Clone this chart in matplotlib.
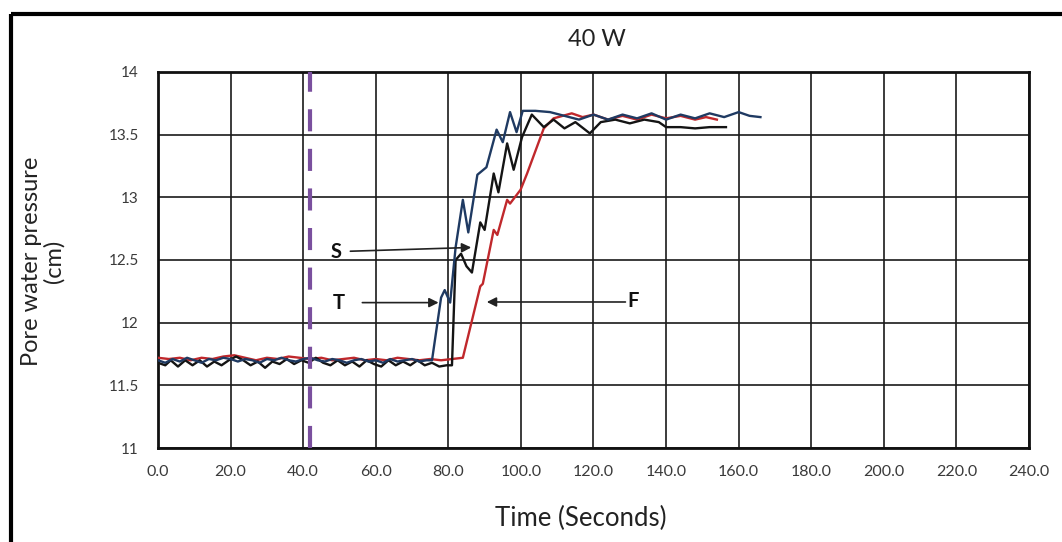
import matplotlib
matplotlib.use("Agg")
import matplotlib.pyplot as plt
from matplotlib.lines import Line2D

plt.rcParams['font.family'] = ['Lato', 'DejaVu Sans']

# ---- data ----
t_T = [0, 2, 4, 6, 8, 10, 12, 14, 16, 18, 20, 22, 24, 26, 28, 30, 32, 34, 36, 38,
       40, 42, 44, 46, 48, 50, 52, 54, 56, 58, 60, 62, 64, 66, 68, 70, 72, 74, 75.5,
       78, 79, 80.5, 82, 84, 85.5, 88, 90.5, 93.3, 95, 97, 98.8, 100.5, 104, 108,
       112, 116, 120, 124, 128, 132, 136, 140, 144, 148, 152, 156, 160, 163, 166]
p_T = [11.70, 11.68, 11.71, 11.69, 11.72, 11.70, 11.68, 11.71, 11.70, 11.72, 11.71,
       11.69, 11.71, 11.70, 11.68, 11.71, 11.70, 11.72, 11.70, 11.69, 11.71, 11.72,
       11.70, 11.69, 11.71, 11.70, 11.68, 11.70, 11.71, 11.69, 11.70, 11.68, 11.71,
       11.69, 11.70, 11.71, 11.69, 11.70, 11.70,
       12.20, 12.26, 12.16, 12.60, 12.98, 12.72, 13.18, 13.24, 13.54, 13.44, 13.68,
       13.52, 13.69, 13.69, 13.68, 13.65, 13.62, 13.66, 13.62, 13.66, 13.63, 13.67,
       13.62, 13.66, 13.63, 13.67, 13.64, 13.68, 13.65, 13.64]

t_S = [0, 2, 3.5, 5.5, 7.5, 9.5, 11.5, 13.5, 15.5, 17.5, 19.5, 21.5, 23.5, 25.5,
       27.5, 29.5, 31.5, 33.5, 35.5, 37.5, 39.5, 41.5, 43.5, 45.5, 47.5, 49.5, 51.5,
       53.5, 55.5, 57.5, 59.5, 61.5, 63.5, 65.5, 67.5, 69.5, 71.5, 73.5, 75.5, 77.5,
       79.5, 81, 82, 83.5, 85, 86.5, 88.8, 90, 92.5, 93.8, 96.2, 98, 100.3, 103,
       106.3, 109, 112, 115, 119, 122, 126, 130, 134, 138, 140, 144, 148, 152, 156.5]
p_S = [11.68, 11.66, 11.70, 11.65, 11.70, 11.66, 11.70, 11.65, 11.69, 11.66, 11.70,
       11.73, 11.70, 11.66, 11.69, 11.64, 11.69, 11.67, 11.71, 11.67, 11.70, 11.68,
       11.72, 11.68, 11.66, 11.70, 11.66, 11.69, 11.65, 11.70, 11.67, 11.65, 11.70,
       11.66, 11.69, 11.66, 11.70, 11.66, 11.68, 11.65, 11.66, 11.66,
       12.50, 12.55, 12.45, 12.40, 12.80, 12.74, 13.19, 13.04, 13.43, 13.22, 13.48,
       13.66, 13.56, 13.62, 13.55, 13.60, 13.51, 13.60, 13.62, 13.59, 13.62, 13.60,
       13.56, 13.56, 13.55, 13.56, 13.56]

t_F = [0, 3, 6, 9, 12, 15, 18, 21, 24, 27, 30, 33, 36, 39, 42, 45, 48, 51, 54, 57,
       60, 63, 66, 69, 72, 75, 78, 81, 84, 88.8, 89.5, 92.5, 93.5, 96.2, 97, 99.9,
       101.7, 106.3, 109, 114, 117, 120, 124, 128, 132, 136, 140, 144, 148, 151, 154]
p_F = [11.72, 11.71, 11.72, 11.70, 11.72, 11.71, 11.73, 11.74, 11.72, 11.70, 11.72,
       11.71, 11.73, 11.72, 11.71, 11.72, 11.70, 11.71, 11.72, 11.70, 11.71, 11.70,
       11.72, 11.71, 11.70, 11.71, 11.70, 11.71, 11.72,
       12.29, 12.31, 12.74, 12.70, 12.98, 12.95, 13.06, 13.19, 13.55, 13.63, 13.67,
       13.64, 13.66, 13.62, 13.65, 13.62, 13.66, 13.63, 13.65, 13.62, 13.64, 13.62]

heat_on_time = 42.0
x_ticks = [0, 20, 40, 60, 80, 100, 120, 140, 160, 180, 200, 220, 240]
y_ticks = [11, 11.5, 12, 12.5, 13, 13.5, 14]
y_tick_labels = ['11', '11.5', '12', '12.5', '13', '13.5', '14']

# (label, text position, arrow tail, arrow head)
annotations = [
    ('S', (49.1, 12.56), (53.0, 12.57), (86.3, 12.60)),
    ('T', (49.7, 12.16), (56.3, 12.16), (77.3, 12.16)),
    ('F', (131.0, 12.17), (128.8, 12.165), (90.6, 12.165)),
]

# ---- figure ----
fig = plt.figure(figsize=(10.62, 5.42), dpi=100)
ax = fig.add_axes([0.1488, 0.1734, 0.8201, 0.6938])

ax.plot(t_F, p_F, color='#c0282c', lw=1.7, zorder=3, solid_joinstyle='round')
ax.plot(t_S, p_S, color='#141414', lw=1.7, zorder=4, solid_joinstyle='round')
ax.plot(t_T, p_T, color='#1f3a62', lw=1.7, zorder=5, solid_joinstyle='round')

ax.axvline(heat_on_time, color='#7a4f9e', lw=3.0, dashes=(5.3, 4.2), zorder=6)

ax.set_xlim(0, 240)
ax.set_ylim(11, 14)
ax.set_xticks(x_ticks)
ax.set_xticklabels([f'{v:.1f}' for v in x_ticks], fontsize=11.5, color='#3a3a3a')
ax.set_yticks(y_ticks)
ax.set_yticklabels(y_tick_labels, fontsize=11, color='#3a3a3a')
ax.tick_params(axis='x', length=0, pad=12)
ax.tick_params(axis='y', length=0, pad=14)
ax.grid(True, color='#1a1a1a', lw=1.2)
ax.set_axisbelow(True)
for s in ax.spines.values():
    s.set_linewidth(2.0)
    s.set_color('#111111')

for lab, tp, tail, head in annotations:
    ax.text(tp[0], tp[1], lab, fontsize=14.5, fontweight='bold', ha='center',
            va='center', color='#111111', zorder=7)
    ax.annotate('', xy=head, xytext=tail,
                arrowprops=dict(arrowstyle='-|>', color='#222222', lw=1.2,
                                mutation_scale=14, shrinkA=0, shrinkB=0),
                zorder=7)

fig.text(0.562, 0.928, '40 W', fontsize=17, ha='center', va='center', color='#222222')
fig.text(0.547, 0.044, 'Time (Seconds)', fontsize=18.5, ha='center', va='center', color='#222222')
fig.text(0.040, 0.518, 'Pore water pressure\n(cm)', fontsize=17, ha='center', va='center',
         rotation=90, color='#222222', linespacing=1.05)

# outer frame (top and left edges visible)
fig.add_artist(Line2D([0.0104, 1.0], [0.9745, 0.9745], transform=fig.transFigure,
                      color='black', lw=3.0, solid_capstyle='butt'))
fig.add_artist(Line2D([0.0104, 0.0104], [0.0, 0.9745], transform=fig.transFigure,
                      color='black', lw=3.0, solid_capstyle='butt'))

fig.savefig('out.png', dpi=100, facecolor='white')
